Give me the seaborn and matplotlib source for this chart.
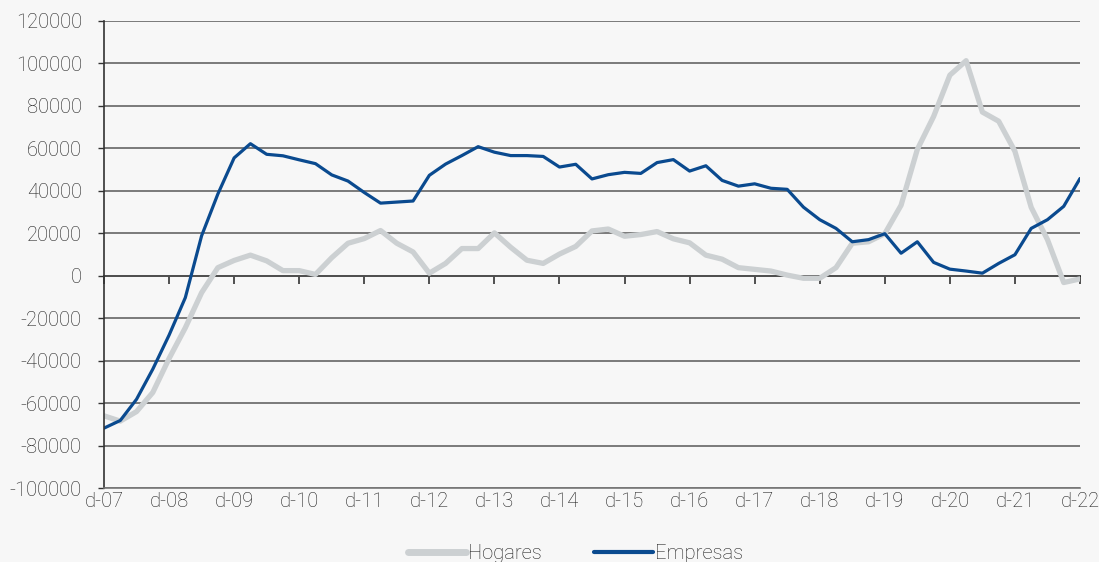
import numpy as np
import pandas as pd
import matplotlib
matplotlib.use("Agg")
import matplotlib.pyplot as plt
import seaborn as sns

# quarterly series, d-07 .. d-22
year_labels = ["d-07", "d-08", "d-09", "d-10", "d-11", "d-12", "d-13", "d-14",
               "d-15", "d-16", "d-17", "d-18", "d-19", "d-20", "d-21", "d-22"]

hogares = [-66000, -68500, -64000, -55000, -39000, -24500, -8000, 3800,
           7200, 9700, 7000, 2400, 2400, 600, 8500, 15300,
           17500, 21300, 15300, 11200, 1200, 5800, 12800, 12800,
           20200, 13400, 7300, 5800, 10200, 13800, 21100, 22000,
           18600, 19400, 20800, 17400, 15500, 9700, 7800, 3800,
           3000, 2200, 300, -1200, -1200, 3800, 15300, 16000,
           19800, 33200, 59500, 75000, 94500, 101300, 77100, 72800,
           58600, 32200, 17000, -3200, -1500]

empresas = [-71800, -68200, -58200, -44000, -28000, -10300, 18800, 38500,
            55500, 62200, 57200, 56500, 54600, 52800, 47500, 44600,
            39200, 34200, 34700, 35200, 47300, 52600, 56600, 60800,
            58200, 56600, 56600, 56200, 51200, 52500, 45600, 47600,
            48700, 48200, 53300, 54700, 49300, 51800, 44900, 42200,
            43300, 41200, 40700, 32300, 26400, 22300, 16000, 17000,
            19800, 10600, 16000, 6300, 3100, 2200, 1200, 5800,
            9900, 22300, 26400, 32700, 45800]

df = pd.DataFrame({"q": np.arange(len(hogares)),
                   "Hogares": hogares,
                   "Empresas": empresas})

sns.set_style("white")
plt.rcParams["font.family"] = ["Roboto", "DejaVu Sans"]
plt.rcParams["font.weight"] = "light"
plt.rcParams["axes.unicode_minus"] = False

txt_color = "#1e1e1e"

fig = plt.figure(figsize=(10.99, 5.62), dpi=100)
fig.patch.set_facecolor("#f7f7f7")
ax = fig.add_axes([104 / 1099, 1 - 488 / 562, 976 / 1099, 467 / 562])
ax.set_facecolor("#f7f7f7")

ymin, ymax = -100000, 120000
ax.set_ylim(ymin, ymax)
ax.set_xlim(0, len(hogares) - 1)
ax.set_yticks(np.arange(ymin, ymax + 1, 20000))
ax.yaxis.grid(True, color="#595959", linewidth=1.1)
ax.set_axisbelow(True)

sns.lineplot(data=df, x="q", y="Hogares", color="#ccd0d2", linewidth=3.8,
             ax=ax, label="Hogares")
sns.lineplot(data=df, x="q", y="Empresas", color="#0a4a8f", linewidth=2.3,
             ax=ax, label="Empresas")

for s in ["top", "right"]:
    ax.spines[s].set_visible(False)
ax.spines["left"].set_color("#333333")
ax.spines["left"].set_linewidth(1.2)
ax.spines["bottom"].set_color("#777777")
ax.spines["bottom"].set_linewidth(1.2)

xt = np.arange(0, len(hogares), 4)
ax.set_xticks(xt)
ax.set_xticklabels(year_labels)
ax.tick_params(axis="x", length=0, pad=3, labelsize=14.5, labelcolor=txt_color)
ax.tick_params(axis="y", left=True, length=4, width=1, color="#333333",
               labelsize=14.5, labelcolor=txt_color, pad=12)
ax.set_xlabel("")
ax.set_ylabel("")

# zero axis with tick marks
zero_frac = (0 - ymin) / (ymax - ymin)
sec = ax.secondary_xaxis(zero_frac)
sec.set_xticks(xt)
sec.tick_params(axis="x", direction="out", length=6, width=1.2,
                color="#333333", labelbottom=False, labeltop=False,
                bottom=True, top=False)
sec.spines["bottom"].set_color("#222222")
sec.spines["bottom"].set_linewidth(1.3)
sec.spines["top"].set_visible(False)

leg = ax.legend(loc="lower center", bbox_to_anchor=(0.483, -0.2), ncol=2,
                frameon=False, fontsize=14.5, handlelength=2.9, columnspacing=2.6,
                handletextpad=0.1, labelcolor=txt_color)
leg.get_lines()[0].set_linewidth(5)
leg.get_lines()[1].set_linewidth(3)

fig.savefig("out.png", dpi=100, facecolor=fig.get_facecolor())
